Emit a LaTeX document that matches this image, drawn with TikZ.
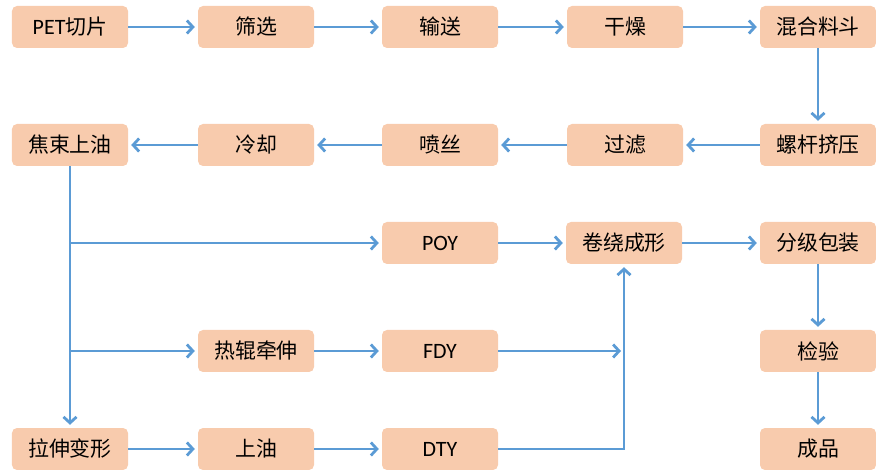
\documentclass[tikz,border=0pt]{standalone}
\usepackage{fontspec}
\setmainfont{Carlito}
\newfontfamily\cjk{Noto Sans CJK SC}
\usetikzlibrary{arrows.meta}
\definecolor{boxfill}{HTML}{F8CBAD}
\definecolor{arrowblue}{HTML}{5B9BD5}
\tikzset{
  pbox/.style={rounded corners=5bp, fill=boxfill, draw=none, minimum width=116bp, minimum height=42bp, inner sep=0pt, text=black, font=\cjk\fontsize{21}{24}\selectfont},
  arr/.style={draw=arrowblue, line width=2.8bp, -{Straight Barb[length=6bp,width=13bp]}, shorten >=3bp}
}
\newcommand{\lat}[1]{{\rmfamily\fontsize{22}{24}\selectfont #1}}
\begin{document}
\begin{tikzpicture}[x=1bp,y=-1bp]
\useasboundingbox (0,0) rectangle (876,470);
% row 1
\node[pbox] (a1) at (70,27) {\lat{PET}切片};
\node[pbox] (a2) at (256,27) {筛选};
\node[pbox] (a3) at (440,27) {输送};
\node[pbox] (a4) at (625,27) {干燥};
\node[pbox] (a5) at (818,27) {混合料斗};
% row 2
\node[pbox] (b1) at (70,145) {焦束上油};
\node[pbox] (b2) at (256,145) {冷却};
\node[pbox] (b3) at (440,145) {喷丝};
\node[pbox] (b4) at (625,145) {过滤};
\node[pbox] (b5) at (818,145) {螺杆挤压};
% row 3
\node[pbox] (poy) at (440,243) {\lat{POY}};
\node[pbox] (wind) at (624,243) {卷绕成形};
\node[pbox] (pack) at (818,243) {分级包装};
% row 4
\node[pbox] (hot) at (256,351) {热辊牵伸};
\node[pbox] (fdy) at (440,351) {\lat{FDY}};
\node[pbox] (chk) at (818,351) {检验};
% row 5
\node[pbox] (str) at (70,449) {拉伸变形};
\node[pbox] (oil) at (256,449) {上油};
\node[pbox] (dty) at (440,449) {\lat{DTY}};
\node[pbox] (prod) at (818,449) {成品};
% connectors
\draw[arr] (a1) -- (a2);
\draw[arr] (a2) -- (a3);
\draw[arr] (a3) -- (a4);
\draw[arr] (a4) -- (a5);
\draw[arr] (a5) -- (b5);
\draw[arr] (b5) -- (b4);
\draw[arr] (b4) -- (b3);
\draw[arr] (b3) -- (b2);
\draw[arr] (b2) -- (b1);
\draw[arr] (b1) -- (str);
\draw[arr] (b1.south |- poy) -- (poy);
\draw[arr] (b1.south |- hot) -- (hot);
\draw[arr] (hot) -- (fdy);
\coordinate (fj) at (wind.south |- fdy);
\draw[arr] (fdy) -- (fj);
\draw[arr] (str) -- (oil);
\draw[arr] (oil) -- (dty);
\draw[arr] (dty.east) -| (wind.south);
\draw[arr] (poy) -- (wind);
\draw[arr] (wind) -- (pack);
\draw[arr] (pack) -- (chk);
\draw[arr] (chk) -- (prod);
\end{tikzpicture}
\end{document}
